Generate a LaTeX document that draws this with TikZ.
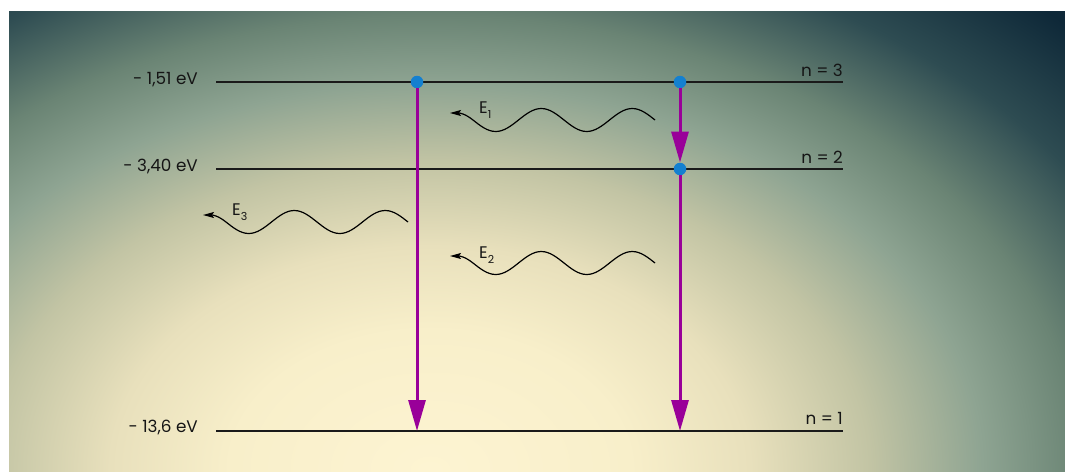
\documentclass[tikz,border=0pt]{standalone}
\usepackage{fontspec}
\setmainfont{Poppins}
\usetikzlibrary{arrows.meta}
\definecolor{c0}{HTML}{FDF4D2}
\definecolor{c1}{HTML}{F8EFCA}
\definecolor{c2}{HTML}{E8E0BC}
\definecolor{c3}{HTML}{C2C4A4}
\definecolor{c4}{HTML}{8EA492}
\definecolor{c5}{HTML}{6A8474}
\definecolor{c6}{HTML}{2E4C52}
\definecolor{c7}{HTML}{0E2838}
\definecolor{c8}{HTML}{0C2434}
\definecolor{lvl}{HTML}{1A1A1A}
\definecolor{txt}{HTML}{151515}
\definecolor{trans}{HTML}{990099}
\definecolor{dotblue}{HTML}{1480D0}
\pgfdeclareradialshading{bgshade}{\pgfpoint{0bp}{0bp}}{color(0bp)=(c0); color(5bp)=(c1); color(8bp)=(c2); color(11bp)=(c3); color(13.8bp)=(c4); color(16.25bp)=(c5); color(19.25bp)=(c6); color(22.5bp)=(c7); color(25bp)=(c8); color(50bp)=(c8)}
\newcommand\lowidx[1]{\raisebox{-5pt}{\fontsize{11}{11}\selectfont #1}}
\tikzset{
  level/.style={draw=lvl, line width=1.5pt},
  trans/.style={draw=trans, line width=3pt, -{Triangle[length=31pt,width=17pt]}},
  dot/.style={circle, fill=dotblue, inner sep=0pt, minimum size=12.5pt},
  lbl/.style={font=\fontsize{16.8}{20}\selectfont, text=txt, inner sep=0pt},
  wave/.style={draw=black, line width=1.2pt, -{Stealth[length=11pt,width=6pt,inset=2pt]}},
  photon/.pic={
    \draw[wave] (0,0) sin (-22.75,-11.5) cos (-45.5,0) sin (-68.25,11.5) cos (-91,0)
      sin (-113.75,-11.5) cos (-136.5,0) sin (-159.25,11.5) cos (-182,0)
      .. controls (-190,-6.3) and (-195,-7) .. (-205,-7);
  }
}
\begin{document}
\begin{tikzpicture}[x=1pt,y=-1pt]
\useasboundingbox (0,0) rectangle (1065,471);
\fill[white] (0,0) rectangle (1065,471);
\begin{scope}
  \clip (9,11) rectangle (1065,471);
  \shade[shading=bgshade] (430,470) ellipse [x radius=1000, y radius=700];
\end{scope}
% levels
\coordinate (L3a) at (216,82);  \coordinate (L3b) at (843,82);
\coordinate (L2a) at (216,169); \coordinate (L2b) at (843,169);
\coordinate (L1a) at (216,431); \coordinate (L1b) at (843,431);
\draw[level] (L3a) -- (L3b);
\draw[level] (L2a) -- (L2b);
\draw[level] (L1a) -- (L1b);
% dots
\node[dot] (d3a) at (417,82) {};
\node[dot] (d3b) at (680,82) {};
\node[dot] (d2b) at (680,169) {};
\coordinate (g1a) at (417,431);
\coordinate (g1b) at (680,431);
% transitions
\draw[trans] (d3a) -- (g1a);
\draw[trans] (d3b) -- (d2b);
\draw[trans] (d2b) -- (g1b);
% photons
\pic at (655,120) {photon};
\pic at (655,263) {photon};
\pic at (408,222) {photon};
\node[lbl, anchor=base west] (E1) at (479,113) {E\lowidx{1}};
\node[lbl, anchor=base west] (E2) at (479,258) {E\lowidx{2}};
\node[lbl, anchor=base west] (E3) at (232,215) {E\lowidx{3}};
% labels
\node[lbl, anchor=base east] (v3) at (198,84) {- 1,51 eV};
\node[lbl, anchor=base east] (v2) at (198,171) {- 3,40 eV};
\node[lbl, anchor=base east] (v1) at (198,432) {- 13,6 eV};
\node[lbl, anchor=base east] (n3) at (843,76) {n = 3};
\node[lbl, anchor=base east] (n2) at (843,163) {n = 2};
\node[lbl, anchor=base east] (n1) at (843,424.5) {n = 1};
\end{tikzpicture}
\end{document}
